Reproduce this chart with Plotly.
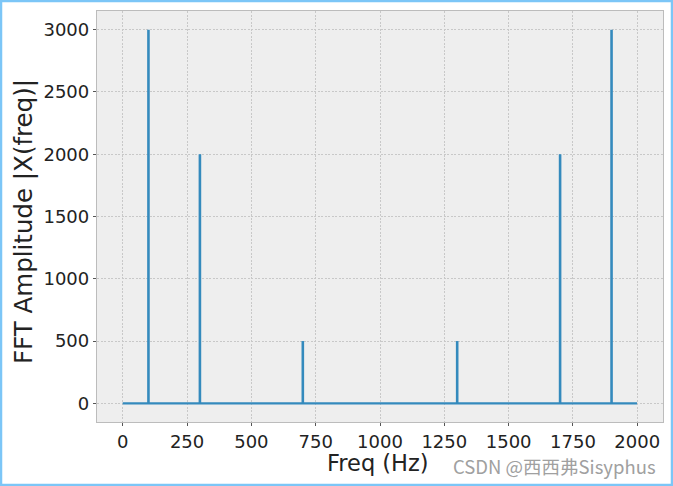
import plotly.graph_objects as go

# Data
peak_freqs = [100, 300, 700, 1300, 1700, 1900]
peak_amps = [3000, 2000, 500, 500, 2000, 3000]
baseline_x = [0, 1999]
baseline_y = [0, 0]
x_ticks = [0, 250, 500, 750, 1000, 1250, 1500, 1750, 2000]
y_ticks = [0, 500, 1000, 1500, 2000, 2500, 3000]

W, H = 673, 486
L, R, T, B = 97, 10, 11, 64
pw, ph = W - L - R, H - T - B

blue = "#348ABD"
FONT = "DejaVu Sans, Verdana, sans-serif"

stem_x, stem_y = [], []
for f, a in zip(peak_freqs, peak_amps):
    stem_x += [f, f, None]
    stem_y += [0, a, None]

fig = go.Figure()
fig.add_trace(go.Scatter(x=baseline_x, y=baseline_y, mode="lines",
                         line=dict(color=blue, width=2.2), hoverinfo="skip"))
fig.add_trace(go.Scatter(x=stem_x, y=stem_y, mode="lines",
                         line=dict(color=blue, width=2.6), hoverinfo="skip"))

axis_common = dict(
    showgrid=True, gridcolor="#c8c8c8", gridwidth=1, griddash="2px,1.5px",
    zeroline=False, showline=True, linecolor="#bcbcbc", linewidth=1.3, mirror=True,
    ticks="outside", ticklen=3, tickcolor="#555555", tickwidth=1,
    tickfont=dict(family=FONT, size=18, color="#222222"),
)

fig.update_layout(
    width=W, height=H,
    margin=dict(l=L, r=R, t=T, b=B, pad=0),
    paper_bgcolor="white", plot_bgcolor="#eeeeee",
    showlegend=False,
    xaxis=dict(range=[-100, 2100], tickvals=x_ticks,
               ticktext=[str(v) for v in x_ticks], **axis_common),
    yaxis=dict(range=[-150, 3150], tickvals=y_ticks,
               ticktext=[str(v) for v in y_ticks], **axis_common),
)

def px_x(p):
    return (p - L) / pw

def px_y(p):
    return (H - B - p) / ph

annotations = [
    dict(text="Freq (Hz)", x=px_x(378), y=px_y(463), xref="paper", yref="paper",
         showarrow=False, xanchor="center", yanchor="middle",
         font=dict(family=FONT, size=22.5, color="#222222")),
    dict(text="FFT Amplitude |X(freq)|", x=px_x(23), y=px_y(221), xref="paper", yref="paper",
         showarrow=False, xanchor="center", yanchor="middle", textangle=-90,
         font=dict(family=FONT, size=24.5, color="#222222")),
    dict(text="CSDN @西西弗Sisyphus", x=px_x(658), y=px_y(466), xref="paper", yref="paper",
         showarrow=False, xanchor="right", yanchor="middle",
         font=dict(family="Noto Sans CJK SC", size=18.5, color="#a0a0a0")),
]
fig.update_layout(annotations=annotations)

# light blue frame around the image
fig.add_shape(type="rect", xref="paper", yref="paper",
              x0=px_x(1), x1=px_x(W - 1), y0=px_y(H - 1), y1=px_y(1),
              line=dict(color="#7cc6f7", width=2.5), fillcolor="rgba(0,0,0,0)",
              layer="above")

fig.write_html("out.html", config={"displayModeBar": False},
               post_script="document.body.style.margin='0';document.body.style.padding='0';")
